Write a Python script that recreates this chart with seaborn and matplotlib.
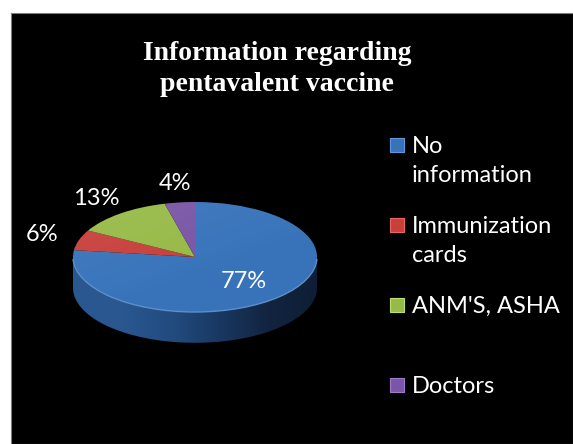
import numpy as np
import seaborn as sns
import matplotlib
matplotlib.use("Agg")
import matplotlib.pyplot as plt
from matplotlib.patches import Circle, Polygon, Rectangle, Arc
from matplotlib.colors import LinearSegmentedColormap, to_rgb

# data
sources = ["No\ninformation", "Immunization\ncards", "ANM'S, ASHA", "Doctors"]
shares = [77, 6, 13, 4]
slice_colors = ["#3873BA", "#C8403C", "#97BA47", "#7A56A6"]
chart_title = "Information regarding\npentavalent vaccine"

sns.set_theme(style="white")
plt.rcParams["font.family"] = ["Lato", "DejaVu Sans"]
palette = sns.color_palette(slice_colors)

W, H = 573, 444
fig = plt.figure(figsize=(W / 100, H / 100), dpi=100, facecolor="white")

# black chart area with a thin grey frame
bg = fig.add_axes([11 / W, 0, 1 - 11 / W, 1 - 13 / H])
bg.set_facecolor("black")
bg.set_xticks([])
bg.set_yticks([])
for sp in bg.spines.values():
    sp.set_color("#7f7f7f")
    sp.set_linewidth(0.8)

# pie axes, squashed vertically to look tilted
cx, cy, rx, ry = 195, 257, 122, 55
left, right, top, bottom = 20, 370, 150, 420
ax = fig.add_axes([left / W, (H - bottom) / H, (right - left) / W, (bottom - top) / H])
ax.patch.set_alpha(0)

wedges, texts, autotexts = ax.pie(
    shares, colors=palette, startangle=90, counterclock=False,
    autopct=lambda p: f"{p:.0f}%", pctdistance=0.6,
    textprops=dict(color="white", fontsize=17),
    wedgeprops=dict(linewidth=0), radius=1,
)
ax.set_aspect("auto")
ax.axis("off")

for w in wedges:
    w.set_zorder(3)
for t in autotexts:
    t.set_zorder(6)
# small slices get their label outside the pie
for t in autotexts[1:]:
    x, y = t.get_position()
    t.set_position((x * 2.2, y * 2.25))

# pie thickness: side band with a horizontal shade
depth = 0.56
tt = np.linspace(np.pi, 2 * np.pi, 200)
side_pts = np.column_stack([np.cos(tt), np.sin(tt) - depth])
side_pts = np.vstack([side_pts, [[1, 0], [-1, 0]]])
side = Polygon(side_pts, closed=True, transform=ax.transData, facecolor="none", edgecolor="none")
ax.add_patch(side)
side_cmap = LinearSegmentedColormap.from_list(
    "side", ["#2A5891", "#2A5790", "#224C80", "#193861", "#12243F", "#0F1E36"])
grad = np.linspace(0, 1, 256).reshape(1, -1)
im = ax.imshow(grad, cmap=side_cmap, extent=(-1, 1, -1 - depth, 0.0),
               aspect="auto", zorder=2, interpolation="bicubic")
im.set_clip_path(side)

# faint light on the top face
gx, gy = np.meshgrid(np.linspace(-1, 1, 200), np.linspace(1, -1, 200))
shine = np.clip(0.07 - 0.025 * (gx + 1) - 0.03 * (1 - gy), 0, 1)
rgba = np.zeros((200, 200, 4))
rgba[..., :3] = 1
rgba[..., 3] = shine
top_face = Circle((0, 0), 1, transform=ax.transData, facecolor="none", edgecolor="none")
ax.add_patch(top_face)
im2 = ax.imshow(rgba, extent=(-1, 1, -1, 1), aspect="auto", zorder=4, interpolation="bilinear")
im2.set_clip_path(top_face)
ax.add_patch(Arc((0, 0), 2, 2, theta1=182, theta2=358, color="#5D8FCB", lw=1.0, zorder=5))

ax.set_xlim((left - cx) / rx, (right - cx) / rx)
ax.set_ylim((cy - bottom) / ry, (cy - top) / ry)

# title
fig.text(277 / W, 1 - 41 / H, chart_title, ha="center", va="top", color="white",
         fontsize=20, fontweight="bold", family=["Liberation Serif", "DejaVu Serif"],
         linespacing=1.3)

# legend drawn by hand so the swatch sits on the first line
for i, (lab, col) in enumerate(zip(sources, palette)):
    yc = 145 + 80 * i
    sw = Rectangle((390 / W, 1 - (yc + 7) / H), 14 / W, 14 / H, transform=fig.transFigure,
                   facecolor=col, edgecolor=tuple(min(1, c + 0.15) for c in to_rgb(col)), lw=0.8)
    fig.add_artist(sw)
    fig.text(412 / W, 1 - (yc - 9) / H, lab, ha="left", va="top", color="white",
             fontsize=17, linespacing=1.5)

fig.savefig("out.png", dpi=100, facecolor="white")
